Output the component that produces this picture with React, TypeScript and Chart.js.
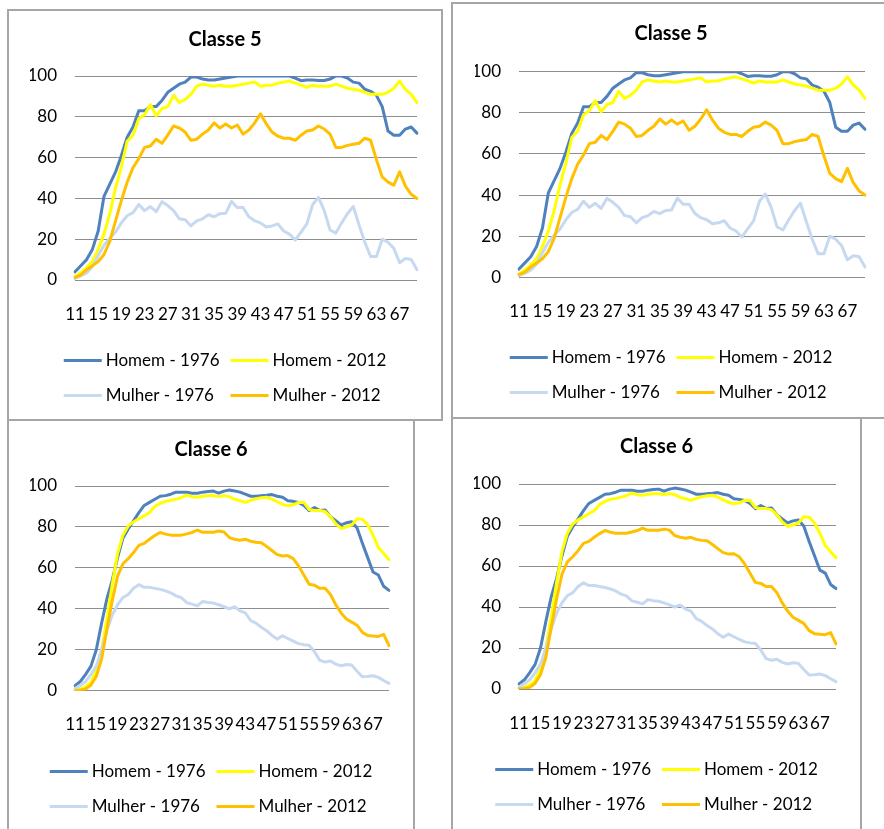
import React, { useEffect, useRef } from "react";
import { Chart, registerables } from "chart.js";

Chart.register(...registerables);

// Ages on the horizontal axis
const ages = [
  "11", "12", "13", "14", "15", "16", "17", "18", "19", "20",
  "21", "22", "23", "24", "25", "26", "27", "28", "29", "30",
  "31", "32", "33", "34", "35", "36", "37", "38", "39", "40",
  "41", "42", "43", "44", "45", "46", "47", "48", "49", "50",
  "51", "52", "53", "54", "55", "56", "57", "58", "59", "60",
  "61", "62", "63", "64", "65", "66", "67", "68", "69", "70",
];

const seriesNames = ["Homem - 1976", "Homem - 2012", "Mulher - 1976", "Mulher - 2012"];
const seriesColors = ["#4F81BD", "#FFFF00", "#C6D9F1", "#FFC000"];

// Classe 5
const c5Homem1976 = [
  4, 7, 10, 15, 24, 41, 47, 53, 61, 70,
  75, 83, 83, 85, 85, 88, 92, 94, 96, 97,
  99.5, 99.5, 98.5, 98, 98, 98.5, 99, 99.5, 100, 100,
  100, 100, 100, 100, 100, 100, 100, 100, 99, 97.7,
  98, 98, 97.8, 97.8, 98.5, 100, 100, 99, 97, 96.5,
  93.5, 92.5, 90.5, 85, 73, 71, 71, 74, 75, 72,
];
const c5Homem2012 = [
  1.6, 3.5, 6, 9, 15, 22.5, 32.5, 45, 55.5, 68,
  71, 79, 81, 86, 80.5, 84, 85, 90.5, 87, 88.5,
  91, 95, 96, 95.5, 95, 95.5, 95, 95, 95.5, 96,
  96.5, 97, 95, 95.5, 95.5, 96.5, 97, 97.5, 96.5, 95.5,
  94.5, 95.5, 95, 95, 95, 96, 95, 94, 93.5, 93,
  92, 91, 91, 91, 92, 94, 97.5, 93.5, 91, 87,
];
const c5Mulher1976 = [
  0.8, 2, 3.5, 6.5, 12, 17, 20.5, 23.5, 28, 31.5,
  33, 37, 34, 36, 33.5, 38.4, 36.5, 34, 30, 29.5,
  26.5, 29, 30, 32, 31, 32.5, 32.7, 38.5, 35.5, 35.5,
  31, 29, 28, 26, 26.5, 27.5, 24, 22.5, 19.6, 23.5,
  27.5, 37, 40.5, 34, 24.5, 23, 28, 32.5, 36, 27,
  18.5, 11.5, 11.5, 20, 18.5, 15.5, 8.5, 10.5, 10, 5,
];
const c5Mulher2012 = [
  1.3, 2.5, 5, 7, 9, 12.5, 19, 29, 39, 48,
  55, 59.5, 65, 65.7, 69, 67, 71, 75.5, 74.5, 72.5,
  68.5, 69, 71.5, 73.5, 77, 74.5, 76.5, 74.5, 76, 71.5,
  73.5, 77, 81.5, 76.5, 72.5, 70.5, 69.5, 69.5, 68.5, 71,
  73, 73.5, 75.5, 74, 71.5, 65, 65, 66, 66.5, 67,
  69.5, 68.5, 59, 50.5, 48, 46.5, 53, 46, 42, 40,
];

// Classe 6
const c6Homem1976 = [
  2.5, 4.5, 8, 12, 20, 33, 45, 54, 65, 74.5,
  79, 83, 87, 90.5, 92, 93.5, 95, 95.3, 96, 97,
  97, 97, 96.5, 96.5, 97, 97.3, 97.5, 96.5, 97.5, 98,
  97.6, 97, 96, 95, 95, 95.3, 95.5, 95.8, 95, 94.5,
  92.8, 92.5, 92, 90.5, 88, 89.5, 88, 88.3, 85, 83,
  81, 82, 82.5, 79.5, 72, 65, 58, 56.5, 51, 49,
];
const c6Homem2012 = [
  0.3, 0.8, 2, 4, 10, 20, 35, 52, 67, 76,
  80.5, 82.5, 84, 85.5, 87, 90, 91.5, 92.5, 93, 93.6,
  94.3, 95.5, 94.8, 94.5, 95, 95.3, 95.3, 94.8, 95.3, 94.8,
  93.5, 92.8, 92, 93, 93.8, 94.3, 94.5, 93.6, 92.3, 91,
  90.4, 90.8, 92, 92, 88.5, 88, 88, 87.5, 85, 81.5,
  79.3, 80, 81, 84, 83.8, 81, 76, 70, 67, 64,
];
const c6Mulher1976 = [
  1, 2.5, 4.5, 8, 12, 20, 29.5, 37, 42, 45.5,
  47, 50, 51.8, 50.5, 50.5, 50, 49.5, 48.8, 47.8, 46.3,
  45.4, 43, 42.3, 41.5, 43.6, 43.1, 42.8, 42, 41, 40,
  41, 39, 38, 34.3, 33, 31, 29.3, 27, 25.2, 26.8,
  25.5, 24.2, 23, 22.5, 22.2, 19, 14.8, 14, 14.5, 13,
  12.2, 12.8, 12.5, 9.5, 6.8, 7, 7.3, 6.5, 5, 3.6,
];
const c6Mulher2012 = [
  0, 0.3, 0.8, 2.8, 7, 15.5, 30, 44, 56, 62,
  64.5, 67.5, 71, 72, 74, 75.8, 77.3, 76.5, 76, 76,
  76, 76.6, 77.3, 78.5, 77.4, 77.4, 77.4, 78, 77.5, 74.8,
  74, 73.5, 74, 73, 72.5, 72.3, 70.5, 68.5, 66.5, 65.8,
  66, 64.5, 61, 56.5, 52, 51.5, 50, 50, 47, 42,
  38, 35, 33.5, 32, 28.5, 27, 26.7, 26.5, 27.5, 22,
];

const yTicks = [0, 20, 40, 60, 80, 100];

const FONT = "Lato";
const TEXT_SIZE = 17;
const TITLE_SIZE = 20;

type PanelSpec = {
  title: string;
  series: number[][];
  left: number;
  top: number;
  width: number;
  height: number;
  plotTop: number;
  plotHeight: number;
  sidePad: number;
  titleY: number;
};

const panels: PanelSpec[] = [
  {
    title: "Classe 5",
    series: [c5Homem1976, c5Homem2012, c5Mulher1976, c5Mulher2012],
    left: 7, top: 9, width: 436, height: 412,
    plotTop: 65, plotHeight: 204, sidePad: 21, titleY: 28.5,
  },
  {
    title: "Classe 5",
    series: [c5Homem1976, c5Homem2012, c5Mulher1976, c5Mulher2012],
    left: 451, top: 2, width: 440, height: 417,
    plotTop: 67.7, plotHeight: 205.6, sidePad: 22, titleY: 29.7,
  },
  {
    title: "Classe 6",
    series: [c6Homem1976, c6Homem2012, c6Mulher1976, c6Mulher2012],
    left: 7, top: 419, width: 408, height: 420,
    plotTop: 65, plotHeight: 204.7, sidePad: 21.3, titleY: 28.5,
  },
  {
    title: "Classe 6",
    series: [c6Homem1976, c6Homem2012, c6Mulher1976, c6Mulher2012],
    left: 451, top: 417, width: 411, height: 420,
    plotTop: 65, plotHeight: 205, sidePad: 21, titleY: 27.7,
  },
];

// Width reserved left of the plot for the value labels
const Y_AXIS_SPACE = 66;

// Legend laid out as a 2 x 2 grid with aligned columns under the plot
const gridLegend = {
  id: "gridLegend",
  afterDraw(chart: any) {
    const { ctx, chartArea } = chart;
    const items = chart.data.datasets;
    const cols = 2;
    const sample = 38;
    const gap = 4;
    const colGap = 11;
    ctx.save();
    ctx.font = `${TEXT_SIZE}px ${FONT}`;
    const colW = [0, 0];
    items.forEach((ds: any, i: number) => {
      const c = i % cols;
      colW[c] = Math.max(colW[c], ctx.measureText(ds.label).width);
    });
    const totalW = colW.reduce((a, w) => a + sample + gap + w, 0) + colGap * (cols - 1);
    const startX = (chart.width - totalW) / 2;
    items.forEach((ds: any, i: number) => {
      const c = i % cols;
      const r = Math.floor(i / cols);
      let x = startX;
      for (let k = 0; k < c; k++) x += sample + gap + colW[k] + colGap;
      const y = Math.round(chartArea.bottom + 80 + r * 35) + 0.5;
      ctx.strokeStyle = ds.borderColor;
      ctx.lineWidth = 3;
      ctx.lineCap = "butt";
      ctx.beginPath();
      ctx.moveTo(x, y);
      ctx.lineTo(x + sample, y);
      ctx.stroke();
      ctx.fillStyle = "#000";
      ctx.textAlign = "left";
      ctx.textBaseline = "middle";
      ctx.fillText(ds.label, x + sample + gap, y);
    });
    ctx.restore();
  },
};

function Panel({ spec }: { spec: PanelSpec }) {
  const ref = useRef<HTMLCanvasElement | null>(null);
  const cw = spec.width - 4;
  const ch = spec.height - 4;

  useEffect(() => {
    if (!ref.current) return;
    const titleHalf = (TITLE_SIZE * 1.2) / 2;
    const chart = new Chart(ref.current, {
      type: "line",
      data: {
        labels: ages,
        datasets: seriesNames.map((name, i) => ({
          label: name,
          data: spec.series[i],
          borderColor: seriesColors[i],
          backgroundColor: seriesColors[i],
          borderWidth: 3,
          pointRadius: 0,
          pointHoverRadius: 0,
          tension: 0,
          fill: false,
          order: seriesNames.length - i,
          borderJoinStyle: "round" as const,
          borderCapStyle: "round" as const,
        })),
      },
      options: {
        animation: false,
        responsive: false,
        maintainAspectRatio: false,
        devicePixelRatio: 1,
        events: [],
        // symmetric side padding keeps the title centred on the whole panel
        layout: { padding: { left: spec.sidePad, right: spec.sidePad, top: 0, bottom: 0 } },
        plugins: {
          legend: { display: false },
          tooltip: { enabled: false },
          title: {
            display: true,
            text: spec.title,
            color: "#000",
            font: { family: FONT, size: TITLE_SIZE, weight: "bold", lineHeight: 1.2 },
            padding: {
              top: spec.titleY - titleHalf,
              bottom: spec.plotTop - spec.titleY - titleHalf,
            },
          },
        },
        scales: {
          x: {
            type: "category",
            offset: false,
            grid: { display: false, drawTicks: false },
            border: { display: false },
            ticks: {
              autoSkip: false,
              maxRotation: 0,
              minRotation: 0,
              padding: 24,
              color: "#000",
              font: { family: FONT, size: TEXT_SIZE },
              callback: (_v: any, i: number) => (i % 4 === 0 ? ages[i] : ""),
            },
            afterFit: (s: any) => {
              s.height = ch - spec.plotTop - spec.plotHeight;
            },
          },
          y: {
            min: yTicks[0],
            max: yTicks[yTicks.length - 1],
            ticks: {
              stepSize: yTicks[1] - yTicks[0],
              padding: 18,
              color: "#000",
              font: { family: FONT, size: TEXT_SIZE },
            },
            grid: { color: "#8E8E8E", lineWidth: 1, drawTicks: false },
            border: { display: false },
            afterFit: (s: any) => {
              s.width = Y_AXIS_SPACE - spec.sidePad;
            },
          },
        },
      },
      plugins: [gridLegend],
    });
    return () => chart.destroy();
  }, [spec, cw, ch]);

  return (
    <div
      style={{
        position: "absolute",
        left: spec.left,
        top: spec.top,
        width: spec.width,
        height: spec.height,
        border: "2px solid #A6A6A6",
        boxSizing: "border-box",
        background: "#fff",
      }}
    >
      <canvas ref={ref} width={cw} height={ch} style={{ display: "block", width: cw, height: ch }} />
    </div>
  );
}

export default function App() {
  return (
    <div
      style={{
        position: "fixed",
        left: 0,
        top: 0,
        width: 884,
        height: 829,
        overflow: "hidden",
        background: "#fff",
      }}
    >
      {panels.map((p, i) => (
        <Panel key={i} spec={p} />
      ))}
    </div>
  );
}
